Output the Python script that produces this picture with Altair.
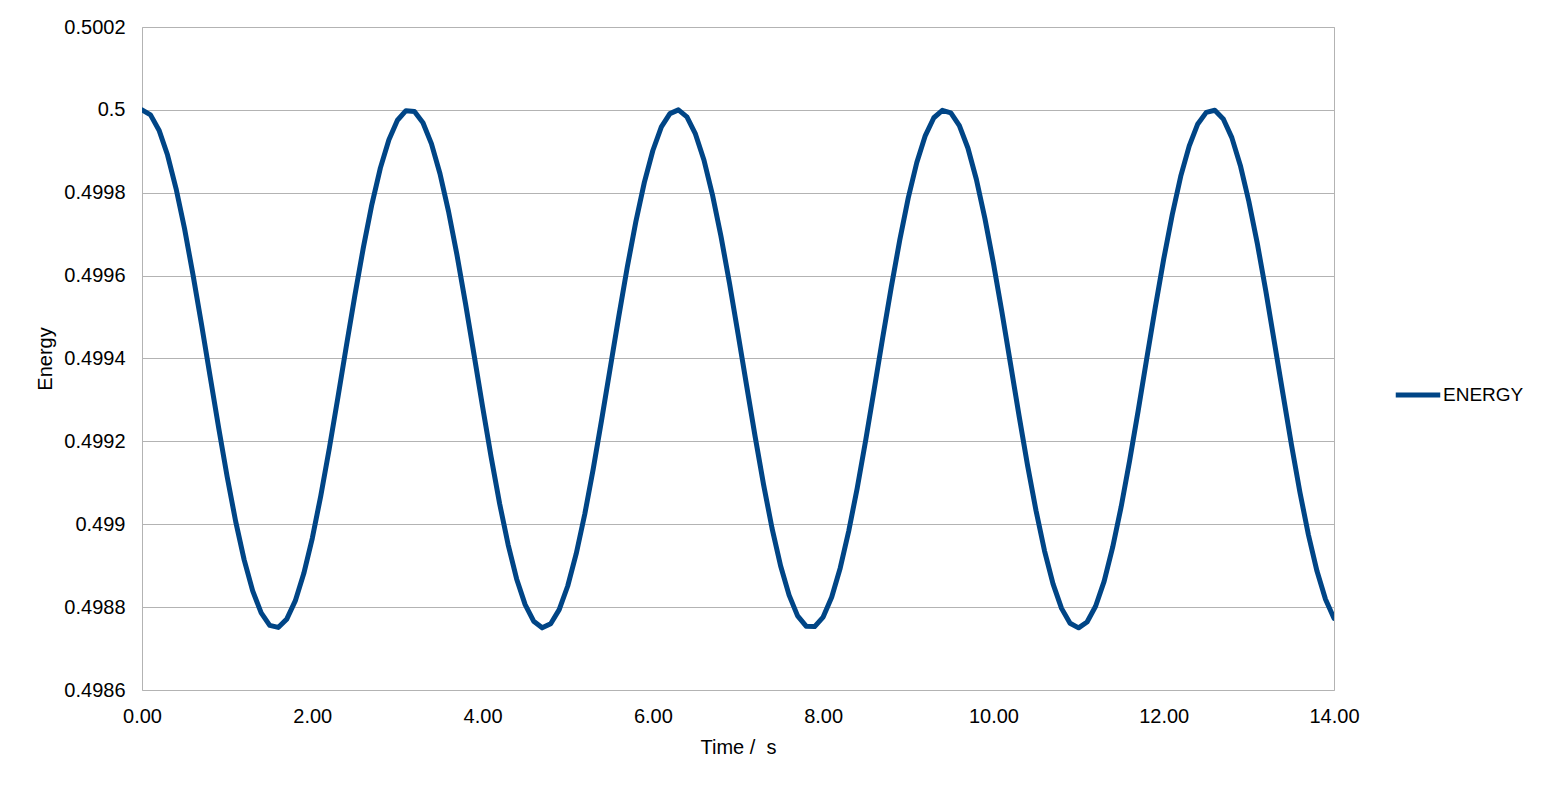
import altair as alt
import pandas as pd

# sample times (s), one every 0.1 s
time_s = [round(i * 0.1, 1) for i in range(141)]

energy = [
    0.500000, 0.499988, 0.499951, 0.499891, 0.499810, 0.499713, 0.499601, 0.499481, 0.499357, 0.499233,
    0.499115, 0.499007, 0.498914, 0.498839, 0.498786, 0.498756, 0.498751, 0.498771, 0.498815, 0.498881,
    0.498966, 0.499069, 0.499183, 0.499305, 0.499430, 0.499552, 0.499668, 0.499772, 0.499860, 0.499928,
    0.499975, 0.499998, 0.499996, 0.499969, 0.499918, 0.499846, 0.499755, 0.499649, 0.499532, 0.499409,
    0.499284, 0.499163, 0.499050, 0.498951, 0.498868, 0.498806, 0.498766, 0.498750, 0.498760, 0.498794,
    0.498851, 0.498929, 0.499024, 0.499134, 0.499254, 0.499378, 0.499502, 0.499621, 0.499730, 0.499825,
    0.499902, 0.499959, 0.499991, 0.500000, 0.499983, 0.499942, 0.499879, 0.499795, 0.499695, 0.499582,
    0.499460, 0.499336, 0.499213, 0.499096, 0.498990, 0.498900, 0.498829, 0.498779, 0.498754, 0.498753,
    0.498776, 0.498824, 0.498894, 0.498983, 0.499087, 0.499203, 0.499326, 0.499451, 0.499572, 0.499686,
    0.499788, 0.499873, 0.499938, 0.499981, 0.499999, 0.499993, 0.499962, 0.499908, 0.499832, 0.499738,
    0.499630, 0.499512, 0.499388, 0.499263, 0.499143, 0.499033, 0.498936, 0.498856, 0.498797, 0.498761,
    0.498750, 0.498764, 0.498802, 0.498862, 0.498944, 0.499042, 0.499154, 0.499274, 0.499399, 0.499522,
    0.499640, 0.499747, 0.499840, 0.499913, 0.499966, 0.499994, 0.499999, 0.499978, 0.499933, 0.499866,
    0.499779, 0.499677, 0.499562, 0.499439, 0.499315, 0.499192, 0.499077, 0.498974, 0.498887, 0.498819,
    0.498773,
]

y_ticks = [0.4986, 0.4988, 0.499, 0.4992, 0.4994, 0.4996, 0.4998, 0.5, 0.5002]
x_ticks = [0, 2, 4, 6, 8, 10, 12, 14]

df = pd.DataFrame({"Time": time_s, "Energy": energy, "Series": "ENERGY"})

FONT = "Liberation Sans"
GRID = "#b3b3b3"

chart = (
    alt.Chart(df)
    .mark_line(strokeWidth=5, strokeCap="round", strokeJoin="round", clip=True)
    .encode(
        x=alt.X(
            "Time:Q",
            scale=alt.Scale(domain=[0, 14], nice=False, zero=False),
            axis=alt.Axis(
                title="Time / \u00a0s", values=x_ticks, format=".2f", grid=False,
                ticks=False, domain=False, labelFlush=False,
                labelPadding=16, titlePadding=11,
            ),
        ),
        y=alt.Y(
            "Energy:Q",
            scale=alt.Scale(domain=[0.4986, 0.5002], nice=False, zero=False),
            axis=alt.Axis(
                title="Energy", values=y_ticks, format="~f", grid=True,
                ticks=False, domain=False, labelFlush=False,
                labelPadding=17, titlePadding=8,
            ),
        ),
        color=alt.Color(
            "Series:N",
            scale=alt.Scale(range=["#004586"]),
            legend=alt.Legend(
                title=None, orient="none", legendX=1251, legendY=343,
                symbolType="stroke", symbolSize=1980, symbolStrokeWidth=5,
                labelFontSize=19, labelFont=FONT, labelColor="black",
                labelOffset=0, padding=0,
            ),
        ),
    )
    .properties(
        width=1192,
        height=663,
        padding={"left": 134, "top": 19, "right": 210, "bottom": 80},
        autosize=alt.AutoSizeParams(type="none"),
    )
    .configure_view(stroke=GRID, strokeWidth=1)
    .configure_axis(
        labelFont=FONT, labelFontSize=20, labelColor="black",
        titleFont=FONT, titleFontSize=20, titleColor="black", titleFontWeight="normal",
        gridColor=GRID, gridWidth=1,
    )
)

chart.save("out.html", embed_options={"renderer": "svg", "actions": False})
